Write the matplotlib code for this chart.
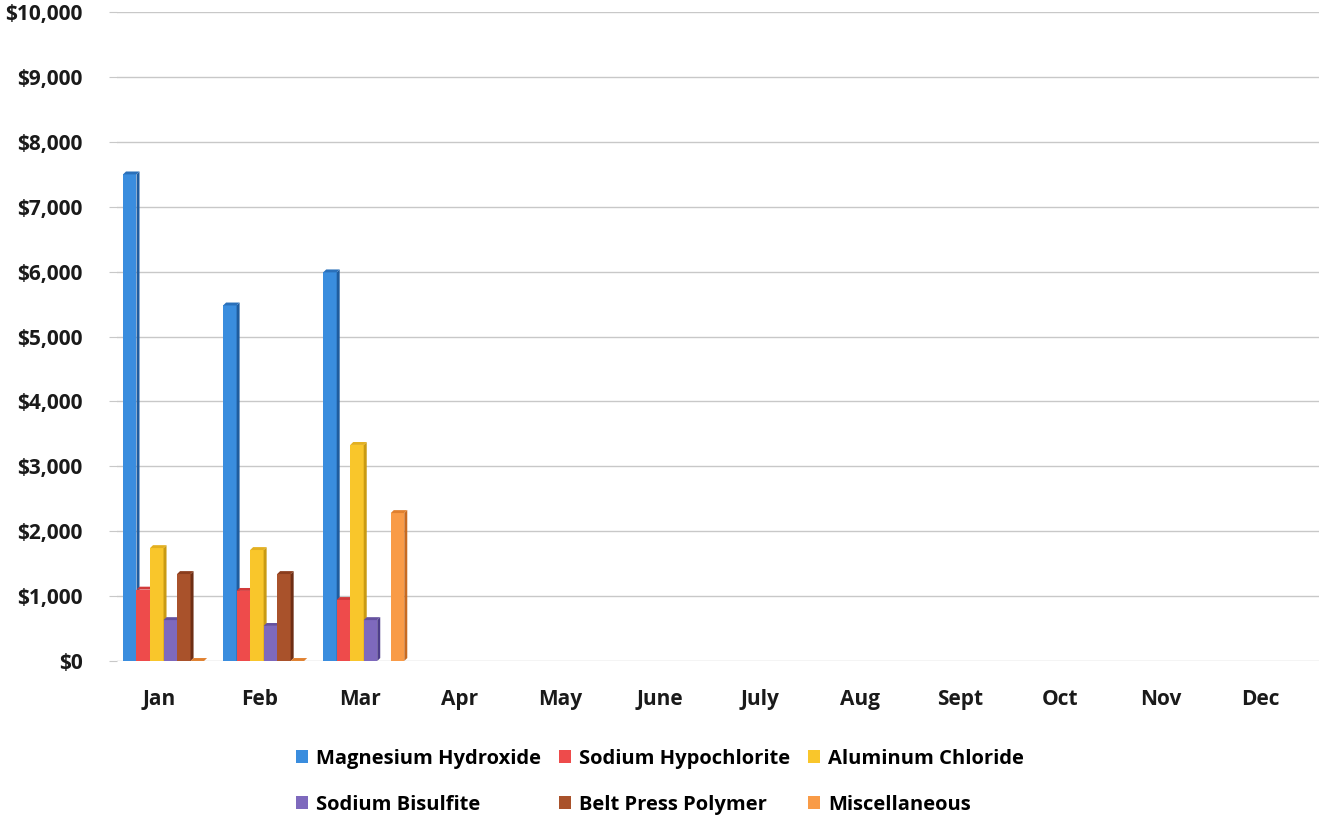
import numpy as np
import matplotlib
matplotlib.use("Agg")
import matplotlib.pyplot as plt
from matplotlib.ticker import FuncFormatter
from matplotlib.patches import Patch

plt.rcParams['font.family'] = ['Open Sans', 'DejaVu Sans']
plt.rcParams['font.weight'] = 'bold'

months = ['Jan', 'Feb', 'Mar', 'Apr', 'May', 'June', 'July', 'Aug',
          'Sept', 'Oct', 'Nov', 'Dec']
chemicals = ['Magnesium Hydroxide', 'Sodium Hypochlorite', 'Aluminum Chloride',
             'Sodium Bisulfite', 'Belt Press Polymer', 'Miscellaneous']

# monthly spend per chemical, only Jan-Mar reported so far
mag_hydroxide = [7500, 5480, 5990]
sod_hypochlorite = [1100, 1080, 940]
alum_chloride = [1740, 1710, 3330]
sod_bisulfite = [630, 540, 630]
belt_polymer = [1340, 1340, np.nan]
misc = [0, 0, 2280]

series = [mag_hydroxide, sod_hypochlorite, alum_chloride,
          sod_bisulfite, belt_polymer, misc]
face_colors = ['#3A8DDE', '#EE4B4B', '#F9C62B', '#7E69BD', '#A9522B', '#F99B47']
side_colors = ['#1F5C9E', '#B32A2A', '#C99A12', '#4E3E8A', '#6E2E14', '#C76A20']
top_colors = ['#2A70BA', '#D23A3A', '#E3B020', '#65519F', '#8B3D1D', '#E0802F']

fig = plt.figure(figsize=(13.2, 8.15), dpi=100)
ax = fig.add_axes([0.089, 0.189, 0.91, 0.796])

x = np.arange(len(months))
bw = 0.135
dx = 0.03     # depth offset in category units
dy = 45       # depth offset in dollars
start = -bw * len(series) / 2 + 0.04

for i, vals in enumerate(series):
    for j, v in enumerate(vals):
        if np.isnan(v):
            continue
        x0 = j + start + i * bw
        x1 = x0 + bw
        if v > 0:
            ax.bar(x0, v, width=bw, align='edge', color=face_colors[i],
                   linewidth=0, zorder=3)
            # right side face
            ax.fill([x1, x1 + dx, x1 + dx, x1], [0, dy, v + dy, v],
                    color=side_colors[i], linewidth=0, zorder=3)
        # top face
        ax.fill([x0, x1, x1 + dx, x0 + dx], [v, v, v + dy, v + dy],
                color=top_colors[i], linewidth=0, zorder=3)

ax.set_xlim(-0.42, 11.58)
ax.set_ylim(0, 10000)
ax.set_yticks(np.arange(0, 10001, 1000))
ax.yaxis.set_major_formatter(FuncFormatter(lambda v, p: '${:,.0f}'.format(v)))
ax.set_xticks(x)
ax.set_xticklabels(months)
ax.grid(axis='y', color='#C8C8C8', linewidth=1.0, zorder=0)
for s in ax.spines.values():
    s.set_visible(False)
ax.tick_params(axis='y', length=6, color='#C8C8C8', labelsize=15, pad=19,
               labelcolor='#1A1A1A')
ax.tick_params(axis='x', length=0, labelsize=15, pad=20, labelcolor='#1A1A1A')

# legend fills column by column, so reorder to read across rows
order = [0, 3, 1, 4, 2, 5]
handles = [Patch(facecolor=face_colors[k], edgecolor='none') for k in order]
labels = [chemicals[k] for k in order]
fig.legend(handles, labels, loc='lower center', ncol=3, frameon=False,
           bbox_to_anchor=(0.5, -0.022), fontsize=14.5, handlelength=0.6,
           handleheight=0.6, handletextpad=0.4, columnspacing=0.9,
           labelspacing=1.3)

fig.savefig('out.png', dpi=100)
